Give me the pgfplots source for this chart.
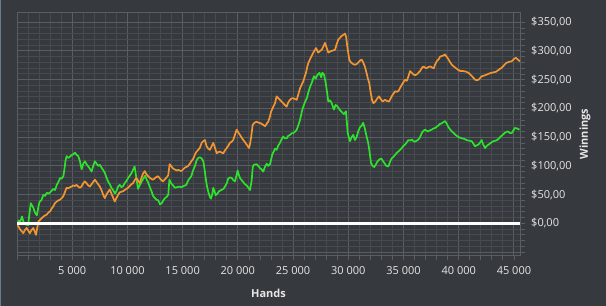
\documentclass[border=0pt]{standalone}
\usepackage{pgfplots}
\pgfplotsset{compat=1.18}
\usepackage{fontspec}
\setmainfont{Open Sans}
\definecolor{bg}{HTML}{36393D}
\definecolor{gmaj}{HTML}{5A5D61}
\definecolor{gmin}{HTML}{474A4E}
\definecolor{lorange}{HTML}{F39531}
\definecolor{lgreen}{HTML}{2DE22D}
\definecolor{ticktxt}{HTML}{E6E6E6}
\definecolor{edge}{HTML}{6A7A8C}
\begin{document}
\begin{tikzpicture}
\path[use as bounding box, fill=bg] (0,0) rectangle (606bp,306bp);
\fill[edge] (0,0) rectangle (1bp,306bp);
\begin{axis}[
  at={(17bp,51bp)}, anchor=south west,
  scale only axis, width=503bp, height=242bp,
  xmin=0, xmax=45550, ymin=-55, ymax=366,
  scaled x ticks=false, scaled y ticks=false,
  axis line style={gmaj, line width=1bp},
  xtick={0,5000,...,45000},
  xticklabels={,5 000,10 000,15 000,20 000,25 000,30 000,35 000,40 000,45 000},
  ytick={-50,0,...,350},
  yticklabels={{},{\$0,00},{\$50,00},{\$100,00},{\$150,00},{\$200,00},{\$250,00},{\$300,00},{\$350,00}},
  minor x tick num=4, minor y tick num=4,
  grid=both,
  major grid style={gmaj, line width=1bp},
  minor grid style={gmin, line width=0.9bp},
  tick align=outside,
  major tick length=5bp, minor tick length=5bp,
  tick style={gmaj, line width=0.8bp},
  xtick pos=bottom, ytick pos=right,
  yticklabel pos=right,
  xticklabel style={font=\fontsize{11bp}{13bp}\selectfont, text=ticktxt, anchor=north, inner sep=0pt, yshift=-6bp},
  yticklabel style={font=\fontsize{11bp}{13bp}\selectfont, text=ticktxt, anchor=west, inner sep=0pt, xshift=6bp},
  xlabel={\textbf{Hands}},
  ylabel={\textbf{Winnings}},
  xlabel style={font=\fontsize{11bp}{13bp}\selectfont, text=ticktxt, at={(rel axis cs:0.5,0)}, anchor=center, yshift=-38bp},
  ylabel style={font=\fontsize{11bp}{13bp}\selectfont, text=ticktxt, at={(rel axis cs:1,0.5)}, anchor=center, yshift=-65bp},
  clip=true,
]
\addplot[lgreen, line width=1.7bp, line join=round] coordinates {
(0,-3)(150,5)(300,3)(450,12)(600,2)(800,-2)(1000,-3)(1150,20)(1250,35)(1400,30)(1500,26)(1650,18)(1800,14)(1950,30)(2050,38)(2200,40)(2400,50)(2550,48)(2700,53)(2900,52)(3100,56)(3300,60)(3450,58)(3600,67)(3750,72)(3900,79)(4050,78)(4200,82)(4300,95)(4400,110)(4500,117)(4650,114)(4800,116)(4950,119)(5100,120)(5250,123)(5400,119)(5550,117)(5700,108)(5850,94)(6000,104)(6150,108)(6300,103)(6450,99)(6600,95)(6750,90)(6900,100)(7050,108)(7200,104)(7350,100)(7500,102)(7650,97)(7800,93)(7950,88)(8100,80)(8250,73)(8400,68)(8550,62)(8700,58)(8870,52)(9000,56)(9160,64)(9300,67)(9450,63)(9610,65)(9750,70)(9910,74)(10100,80)(10360,87)(10500,93)(10650,99)(10800,80)(10960,60)(11100,66)(11260,72)(11450,78)(11600,83)(11750,76)(11900,70)(12050,62)(12200,55)(12340,47)(12500,44)(12650,41)(12800,40)(12950,33)(13100,35)(13250,40)(13400,44)(13550,46)(13700,50)(13800,76)(13950,70)(14130,66)(14300,62)(14500,63)(14730,64)(14910,63)(15100,65)(15330,67)(15510,75)(15780,82)(15960,93)(16120,100)(16270,110)(16420,114)(16570,115)(16720,113)(16870,108)(17000,92)(17080,80)(17200,65)(17320,55)(17450,47)(17560,43)(17700,52)(17770,62)(17900,55)(17990,49)(18150,52)(18300,56)(18500,58)(18700,60)(18830,64)(19000,70)(19130,78)(19300,80)(19440,79)(19600,75)(19740,73)(19900,85)(19980,92)(20100,84)(20190,79)(20350,75)(20490,72)(20650,68)(20800,66)(20950,62)(21100,58)(21250,75)(21350,98)(21450,102)(21700,103)(21850,100)(22000,96)(22150,94)(22300,90)(22450,98)(22610,104)(22750,100)(22910,103)(23010,111)(23120,120)(23250,125)(23360,130)(23510,128)(23650,135)(23810,140)(23950,146)(24110,151)(24250,148)(24420,148)(24550,152)(24720,154)(24900,157)(25020,157)(25200,160)(25330,163)(25500,172)(25630,180)(25800,195)(25920,203)(26100,212)(26250,218)(26410,230)(26550,238)(26700,245)(26890,256)(27050,252)(27200,258)(27390,262)(27550,254)(27650,262)(27800,259)(27950,245)(28050,232)(28190,212)(28350,214)(28500,209)(28700,198)(28850,206)(29000,204)(29250,197)(29400,194)(29600,190)(29790,195)(29850,180)(29950,157)(30150,143)(30300,150)(30450,154)(30600,145)(30750,150)(30900,160)(31050,167)(31210,170)(31350,175)(31500,165)(31660,151)(31800,140)(31900,128)(32060,105)(32200,100)(32350,98)(32480,102)(32650,108)(32800,111)(32990,113)(33150,108)(33300,104)(33450,100)(33630,99)(33800,108)(33930,113)(34100,116)(34230,119)(34400,123)(34530,125)(34700,128)(34840,131)(35000,135)(35140,137)(35300,141)(35440,145)(35600,144)(35750,146)(35900,143)(36040,142)(36200,144)(36350,146)(36500,150)(36650,157)(36800,161)(36950,163)(37100,161)(37250,160)(37400,162)(37550,163)(37700,165)(37860,166)(38000,168)(38150,170)(38300,173)(38460,174)(38600,176)(38760,178)(38900,174)(39050,168)(39200,164)(39370,160)(39550,157)(39700,154)(39850,152)(40000,150)(40280,148)(40500,147)(40700,145)(40900,144)(41180,143)(41350,138)(41480,134)(41650,136)(41780,137)(41950,141)(42080,145)(42200,138)(42380,131)(42550,135)(42700,137)(42900,140)(43130,143)(43350,144)(43550,146)(43750,150)(43980,154)(44200,158)(44450,160)(44650,157)(44800,157)(44950,162)(45100,166)(45300,165)(45500,163)
};
\addplot[lorange, line width=1.7bp, line join=round] coordinates {
(0,-2)(150,-6)(300,-11)(450,-14)(570,-17)(700,-12)(870,-8)(1000,-12)(1170,-17)(1300,-12)(1480,-8)(1600,-14)(1720,-20)(1830,-8)(1930,3)(2080,6)(2230,9)(2400,12)(2550,14)(2680,15)(2850,19)(2990,21)(3150,26)(3300,30)(3430,35)(3600,38)(3750,40)(3880,41)(4050,44)(4190,47)(4350,55)(4490,62)(4650,61)(4800,63)(4940,64)(5100,66)(5250,65)(5390,67)(5550,64)(5700,62)(5840,64)(6000,70)(6140,73)(6300,70)(6450,66)(6600,64)(6750,68)(6900,72)(7050,76)(7200,72)(7350,68)(7500,64)(7650,58)(7800,50)(7950,44)(8100,50)(8250,55)(8400,59)(8550,52)(8700,45)(8860,38)(9000,44)(9160,50)(9300,54)(9450,55)(9610,56)(9750,58)(9900,60)(10060,62)(10200,65)(10350,68)(10510,70)(10650,75)(10810,79)(10950,75)(11110,70)(11250,78)(11400,86)(11570,91)(11700,86)(11870,82)(12050,79)(12200,77)(12320,76)(12500,79)(12650,81)(12770,82)(12950,78)(13100,75)(13220,73)(13400,77)(13600,81)(13700,84)(13820,103)(13950,100)(14100,96)(14270,94)(14450,92)(14600,93)(14880,91)(15050,94)(15200,97)(15330,98)(15500,100)(15660,104)(15780,108)(15950,112)(16120,120)(16230,124)(16420,128)(16570,132)(16720,140)(16870,143)(17020,145)(17170,134)(17320,130)(17470,128)(17620,134)(17770,140)(17920,132)(18080,122)(18230,124)(18380,125)(18530,123)(18680,122)(18830,127)(18990,131)(19130,135)(19280,140)(19430,142)(19580,145)(19750,155)(19890,163)(20050,158)(20190,154)(20350,149)(20490,145)(20650,141)(20800,137)(21010,131)(21100,138)(21190,148)(21340,171)(21500,175)(21700,177)(21900,175)(22090,174)(22250,172)(22460,169)(22600,173)(22750,177)(22910,186)(23000,194)(23210,203)(23360,209)(23510,221)(23650,218)(23810,215)(23950,212)(24110,209)(24250,206)(24420,203)(24550,210)(24720,215)(24850,217)(25020,218)(25200,216)(25330,215)(25500,226)(25630,235)(25800,242)(25920,247)(26050,255)(26170,262)(26280,272)(26380,279)(26500,284)(26590,288)(26700,292)(26830,297)(26950,301)(27080,305)(27200,300)(27280,297)(27450,300)(27590,302)(27750,308)(27890,314)(28050,305)(28190,297)(28350,299)(28500,300)(28650,301)(28800,302)(28950,312)(29100,320)(29250,323)(29400,326)(29550,328)(29700,330)(29800,325)(29910,308)(30000,296)(30090,285)(30200,281)(30310,279)(30450,277)(30610,276)(30750,277)(30910,280)(31050,283)(31210,285)(31350,280)(31500,273)(31650,262)(31760,253)(31900,244)(31960,236)(32050,225)(32150,215)(32270,209)(32400,211)(32550,215)(32650,218)(32780,221)(32950,216)(33100,212)(33330,215)(33500,213)(33700,212)(33930,221)(34100,226)(34250,230)(34400,229)(34530,230)(34700,236)(34850,241)(35000,246)(35140,250)(35300,248)(35450,256)(35590,265)(35750,262)(35900,259)(36050,258)(36200,259)(36350,262)(36500,265)(36650,270)(36800,273)(36950,271)(37100,270)(37250,272)(37420,273)(37600,271)(37750,270)(37850,276)(38010,282)(38200,286)(38310,290)(38450,291)(38610,292)(38760,294)(38900,290)(39050,286)(39200,281)(39370,276)(39550,273)(39750,270)(39950,267)(40160,265)(40400,265)(40650,264)(40870,262)(41050,259)(41250,255)(41480,250)(41650,249)(41800,250)(41950,253)(42080,256)(42300,257)(42550,259)(42800,261)(42990,262)(43200,263)(43400,264)(43600,267)(43840,270)(44050,274)(44300,279)(44550,281)(44800,282)(45000,286)(45190,288)(45350,285)(45550,282)
};
\addplot[white, line width=2.6bp] coordinates {(0,0)(45550,0)};
\end{axis}
\end{tikzpicture}
\end{document}
